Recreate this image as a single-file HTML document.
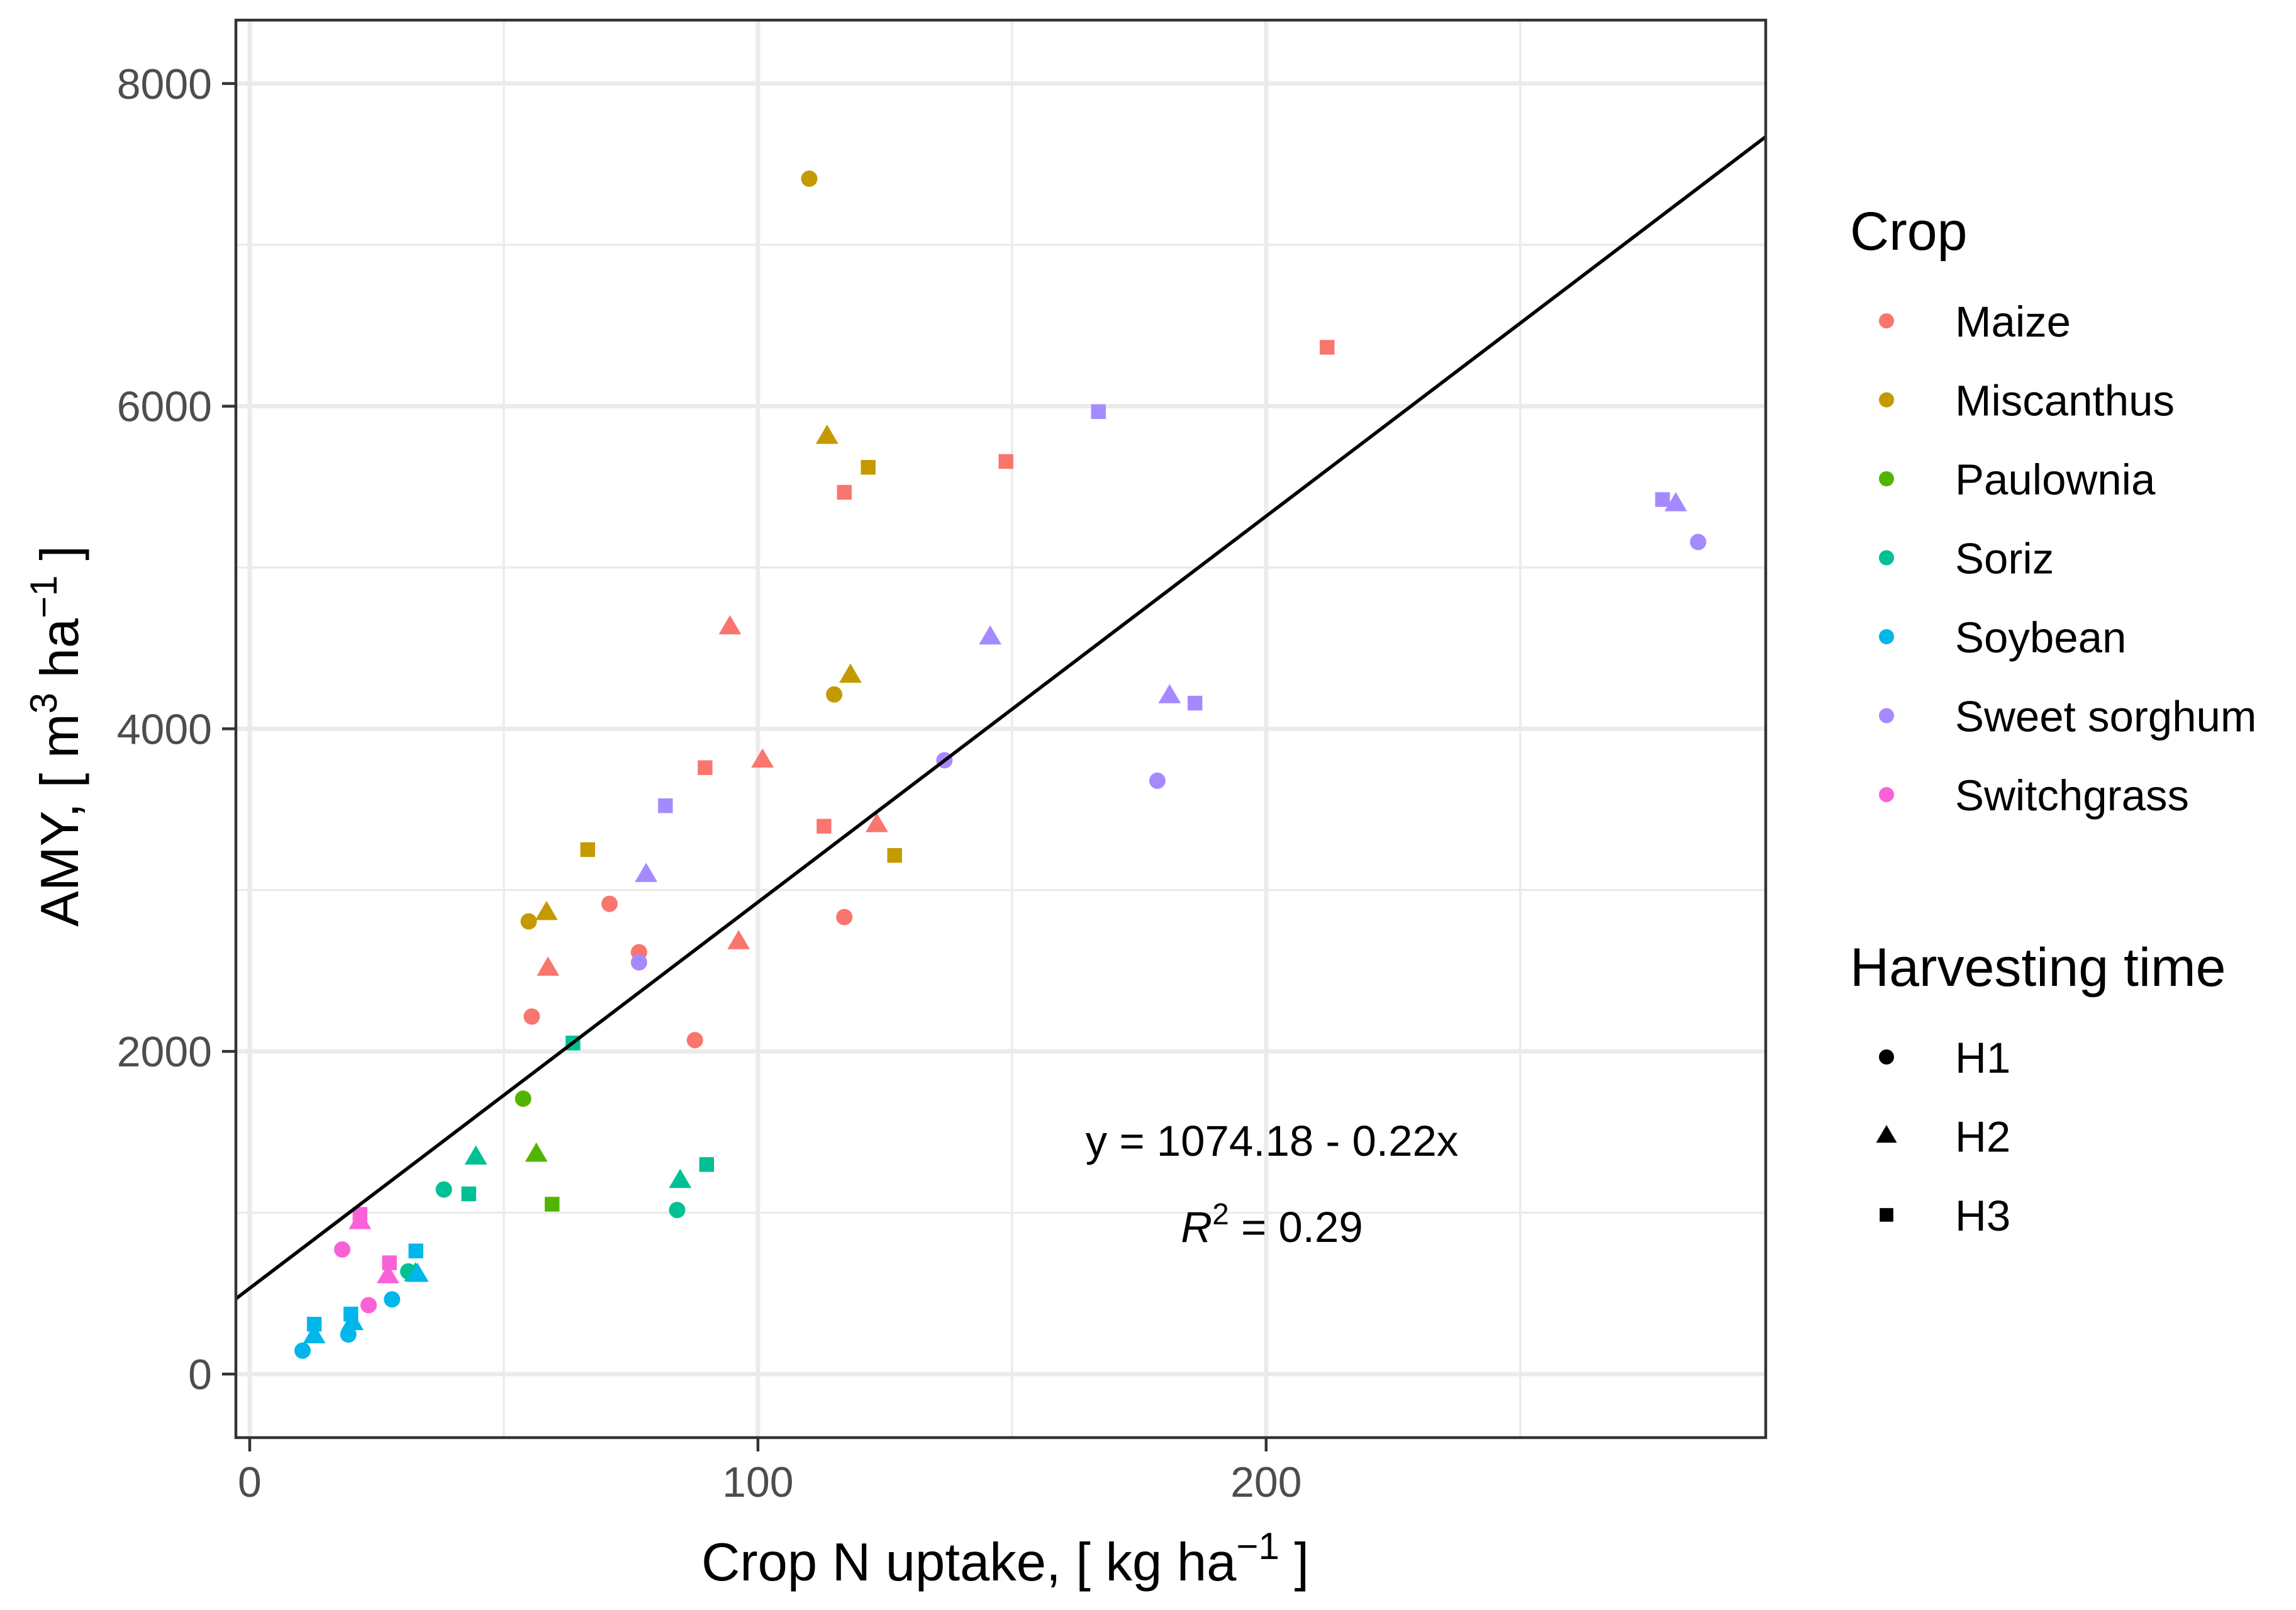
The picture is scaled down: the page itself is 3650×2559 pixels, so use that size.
<!DOCTYPE html>
<html><head><meta charset="utf-8"><style>
html,body{margin:0;padding:0;background:#fff;}
svg{display:block;font-family:"Liberation Sans",Arial,sans-serif;}
</style></head><body>
<svg id="chart" width="3650" height="2559" viewBox="0 0 3650 2559" xmlns="http://www.w3.org/2000/svg">
<g id="grid"></g>
<g id="marks"></g>
<g id="axes"></g>
<g id="legend"></g>
</svg>
<script>
const crops = ["Maize","Miscanthus","Paulownia","Soriz","Soybean","Sweet sorghum","Switchgrass"];
const cropColors = ["#F8766D","#C49A00","#53B400","#00C094","#00B6EB","#A58AFF","#FB61D7"];
const harvests = ["H1","H2","H3"];
const xTicks = [0,100,200];
const yTicks = [0,2000,4000,6000,8000];
// each point: crop index, harvest index, N uptake, AMY
const ptCrop    = [0,0,0,0,0, 0,0,0,0,0, 0,0,0,0,0, 1,1,1, 1,1,1, 1,1,1, 2,2,2, 3,3,3, 3,3,3, 3,3,3, 4,4,4, 4,4,4, 4,4,4, 5,5,5,5, 5,5,5,5, 5,5,5,5, 6,6, 6,6, 6,6];
const ptHarvest = [0,0,0,0,0, 1,1,1,1,1, 2,2,2,2,2, 0,0,0, 1,1,1, 2,2,2, 0,1,2, 0,0,0, 1,1,1, 2,2,2, 0,0,0, 1,1,1, 2,2,2, 0,0,0,0, 1,1,1,1, 2,2,2,2, 0,0, 1,1, 2,2];
const ptX = [70.8,76.6,55.5,87.6,117, 94.5,100.9,123.4,58.7,96.2, 212,148.8,117,89.6,113,
  110.1,115,54.9, 113.6,118.2,58.4, 121.7,66.5,126.9,
  53.8,56.4,59.5,
  38.2,84.1,31.2, 44.5,84.7,32.6, 63.6,43.1,89.9,
  10.4,19.4,28, 12.7,20.2,33, 12.7,19.9,32.7,
  285,178.6,136.7,76.6, 280.6,181,145.7,78, 278,167,186,81.8,
  18.2,23.4, 21.7,27.2, 21.7,27.5];
const ptY = [2915,2615,2216,2070,2833, 4631,3805,3405,2515,2679, 6365,5657,5466,3759,3396,
  7410,4213,2806, 5812,4331,2860, 5621,3251,3215,
  1707,1362,1053,
  1144,1017,636, 1344,1199,620, 2052,1117,1299,
  145,245,463, 236,318,617, 309,372,763,
  5158,3678,3805,2552, 5394,4204,4568,3096, 5421,5966,4159,3523,
  772,427, 944,608, 990,690];
const fitIntercept = 532, fitSlope = 23.93;

const NS="http://www.w3.org/2000/svg";
const L=375,R=2807,T=32,B=2285;
const xMin=-2.72,xMax=298.3,yMin=-394,yMax=8393;
const sx=v=>L+(v-xMin)/(xMax-xMin)*(R-L);
const sy=v=>B-(v-yMin)/(yMax-yMin)*(B-T);
function el(tag,attrs,parent,text){const e=document.createElementNS(NS,tag);for(const k in attrs)e.setAttribute(k,attrs[k]);if(text!==undefined)e.textContent=text;parent.appendChild(e);return e;}
const grid=document.getElementById('grid'),marks=document.getElementById('marks'),axes=document.getElementById('axes'),legend=document.getElementById('legend');
el('rect',{x:L,y:T,width:R-L,height:B-T,fill:'#fff'},grid);
for(let v=50;v<xMax;v+=100){const g=el('line',{x1:sx(v),x2:sx(v),y1:T,y2:B,stroke:'#EBEBEB','stroke-width':3.5},grid);

}
for(let v=1000;v<yMax;v+=2000){const g=el('line',{x1:L,x2:R,y1:sy(v),y2:sy(v),stroke:'#EBEBEB','stroke-width':3.5},grid);

}
xTicks.forEach(v=>{const g=el('line',{x1:sx(v),x2:sx(v),y1:T,y2:B,stroke:'#EBEBEB','stroke-width':7},grid);

});
yTicks.forEach(v=>{const g=el('line',{x1:L,x2:R,y1:sy(v),y2:sy(v),stroke:'#EBEBEB','stroke-width':7},grid);

});
function shape(h,cx,cy,color,parent,r){
  let e;
  if(h===0) e=el('circle',{cx:cx,cy:cy,r:r,fill:color},parent);
  else if(h===1){const s=r*1.45;e=el('polygon',{points:`${cx},${cy-s} ${cx-s*0.95},${cy+s*0.62} ${cx+s*0.95},${cy+s*0.62}`,fill:color},parent);}
  else {const s=r*0.9;e=el('rect',{x:cx-s,y:cy-s,width:2*s,height:2*s,fill:color},parent);}
  return e;
}
for(let i=0;i<ptX.length;i++){
  const p=shape(ptHarvest[i],sx(ptX[i]),sy(ptY[i]),cropColors[ptCrop[i]],marks,13);
  
  
}
const fx1=xMin,fx2=xMax;
const fl=el('line',{x1:sx(fx1),y1:sy(fitIntercept+fitSlope*fx1),x2:sx(fx2),y2:sy(fitIntercept+fitSlope*fx2),stroke:'#000','stroke-width':5.5},marks);


el('rect',{x:L,y:T,width:R-L,height:B-T,fill:'none',stroke:'#333','stroke-width':4.5},axes);
xTicks.forEach(v=>{el('line',{x1:sx(v),x2:sx(v),y1:B,y2:B+22,stroke:'#333','stroke-width':4.5},axes);
const t=el('text',{x:sx(v),y:B+94,'text-anchor':'middle','font-size':68,fill:'#4D4D4D'},axes,String(v));

});
yTicks.forEach(v=>{el('line',{x1:L-22,x2:L,y1:sy(v),y2:sy(v),stroke:'#333','stroke-width':4.5},axes);
const t=el('text',{x:L-38,y:sy(v)+24,'text-anchor':'end','font-size':68,fill:'#4D4D4D'},axes,String(v));

});
</script>
<script>
const svg=document.getElementById('chart');
svg.insertAdjacentHTML('beforeend',`
<text x="1598" y="2512" text-anchor="middle" font-size="85" fill="#000">Crop N uptake, [ kg ha<tspan dy="-34" font-size="60">−1</tspan><tspan dy="34"> ]</tspan></text>
<text transform="translate(124,1170) rotate(-90)" text-anchor="middle" font-size="85" fill="#000">AMY, [ m<tspan dy="-34" font-size="60">3</tspan><tspan dy="34"> ha</tspan><tspan dy="-34" font-size="60">−1</tspan><tspan dy="34"> ]</tspan></text>
<text x="2022" y="1837" text-anchor="middle" font-size="69" fill="#000">y = 1074.18 - 0.22x</text>
<text x="2022" y="1974" text-anchor="middle" font-size="69" fill="#000"><tspan font-style="italic">R</tspan><tspan dy="-28" font-size="48">2</tspan><tspan dy="28"> = 0.29</tspan></text>
<text x="2941" y="397" font-size="86" fill="#000">Crop</text>
<text x="2941" y="1567" font-size="86" fill="#000">Harvesting time</text>
`);
const lg=document.getElementById('legend');
crops.forEach((c,i)=>{
  const y=510+i*125.5;
  const d=shape(0,2999,y,cropColors[i],lg,12);
  
  
  const t=el('text',{x:3108,y:y+25,'font-size':69,fill:'#000'},lg,c);
  
  
});
harvests.forEach((h,i)=>{
  const y=1680+i*125.5;
  const d=shape(i,2999,y,'#000',lg,12);
  
  
  const t=el('text',{x:3108,y:y+25,'font-size':69,fill:'#000'},lg,h);
  
  
});
</script>
</body></html>
